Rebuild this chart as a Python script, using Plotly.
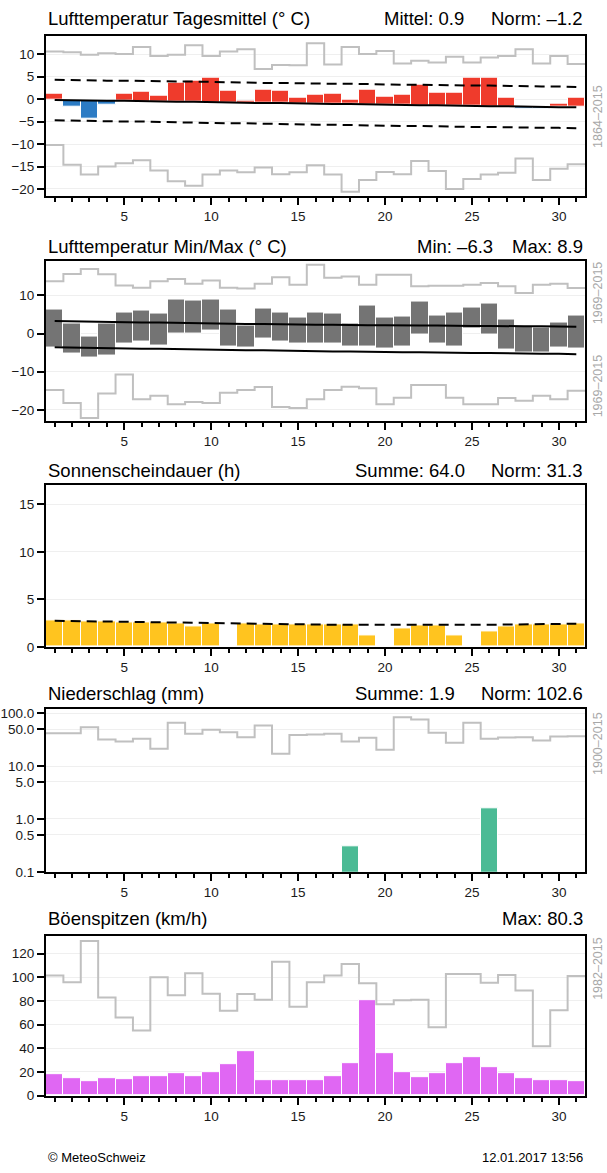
import plotly.graph_objects as go

# ---------------- data ----------------
days = list(range(1, 32))

# Panel 1: daily mean temperature
t_mean = [1.3, -1.6, -4.3, -1.3, 1.1, 1.6, 0.7, 3.6, 4.1, 4.7, 1.8, -0.4, 2.0, 1.9, 0.3,
          0.9, 1.1, -0.1, 2.0, 0.6, 0.9, 3.2, 1.5, 1.4, 4.7, 4.7, 0.3, -2.2, -2.2, -1.0, 0.2]
t_norm = [-0.2, -0.3, -0.3, -0.4, -0.4, -0.5, -0.5, -0.6, -0.6, -0.7, -0.8, -0.8, -0.9, -0.9, -1.0,
          -1.0, -1.1, -1.1, -1.2, -1.2, -1.3, -1.4, -1.4, -1.5, -1.5, -1.6, -1.6, -1.7, -1.7, -1.8, -1.8]
t_band_hi = [4.3, 4.2, 4.2, 4.1, 4.1, 4.0, 4.0, 3.9, 3.9, 3.8, 3.8, 3.7, 3.6, 3.6, 3.5,
             3.5, 3.4, 3.4, 3.3, 3.3, 3.2, 3.2, 3.1, 3.1, 3.0, 3.0, 2.9, 2.9, 2.8, 2.8, 2.7]
t_band_lo = [-4.7, -4.8, -4.8, -4.9, -5.0, -5.0, -5.1, -5.2, -5.2, -5.3, -5.4, -5.4, -5.5, -5.6, -5.6,
             -5.7, -5.7, -5.8, -5.9, -5.9, -6.0, -6.0, -6.1, -6.1, -6.2, -6.2, -6.3, -6.3, -6.4, -6.4, -6.5]
t_rec_max = [10.6, 10.4, 9.85, 10.2, 10.0, 11.6, 9.6, 9.85, 12.0, 9.6, 10.6, 11.1, 6.7, 7.6, 7.55,
             12.4, 7.7, 11.6, 10.0, 10.7, 7.9, 8.5, 8.15, 9.4, 8.15, 9.26, 9.6, 11.1, 7.9, 9.6, 7.8]
t_rec_min = [-10.2, -14.6, -16.8, -15.0, -14.3, -13.6, -15.9, -18.3, -19.3, -16.8, -15.9, -16.3, -15.2, -16.7, -16.3,
             -14.7, -16.8, -20.6, -18.0, -16.2, -16.7, -13.8, -16.0, -20.0, -17.8, -16.8, -16.4, -13.2, -18.0, -15.5, -14.5]

# Panel 2: daily min / max temperature
t_max = [6.4, 2.7, -0.9, 2.7, 5.4, 6.0, 5.1, 8.8, 8.6, 8.9, 6.4, 2.2, 6.5, 5.4, 4.1,
         5.5, 5.2, 2.7, 7.4, 4.2, 4.4, 8.4, 4.7, 5.5, 6.9, 7.95, 3.6, 1.8, 1.6, 3.0, 4.8]
t_min = [-3.6, -5.2, -6.3, -5.8, -2.5, -2.0, -3.1, 0.0, 0.1, 0.8, -3.3, -3.6, -1.4, -2.2, -2.5,
         -2.5, -2.5, -3.5, -3.5, -4.0, -3.5, -0.3, -2.5, -3.5, 1.2, -0.3, -4.2, -5.1, -5.1, -3.6, -3.8]
tmax_norm = [3.3, 3.2, 3.1, 3.1, 3.0, 2.9, 2.9, 2.8, 2.7, 2.7, 2.6, 2.5, 2.5, 2.4, 2.3,
             2.3, 2.3, 2.2, 2.2, 2.2, 2.1, 2.1, 2.1, 2.0, 2.0, 2.0, 1.9, 1.9, 1.9, 1.8, 1.8]
tmin_norm = [-3.6, -3.7, -3.8, -3.8, -3.9, -4.0, -4.0, -4.1, -4.2, -4.2, -4.3, -4.4, -4.4, -4.5, -4.6,
             -4.6, -4.7, -4.7, -4.8, -4.8, -4.9, -4.9, -5.0, -5.0, -5.1, -5.1, -5.2, -5.2, -5.3, -5.3, -5.4]
tmax_rec = [13.7, 15.6, 16.9, 15.5, 12.6, 12.0, 13.7, 14.3, 13.0, 13.9, 12.0, 11.8, 13.0, 14.7, 12.8,
            18.0, 14.6, 14.9, 12.8, 15.4, 15.4, 12.4, 12.5, 12.5, 12.8, 13.2, 12.4, 10.6, 12.8, 13.0, 11.9]
tmin_rec = [-14.8, -18.2, -22.1, -15.7, -10.7, -17.2, -16.3, -18.5, -17.9, -18.2, -15.5, -14.8, -14.0, -19.2, -19.5,
            -17.2, -14.8, -13.9, -14.3, -18.5, -16.8, -13.5, -13.5, -16.8, -18.5, -18.5, -16.9, -17.6, -16.3, -17.2, -15.0]

# Panel 3: sunshine duration (h)
sun = [2.8, 2.75, 2.7, 2.65, 2.6, 2.6, 2.55, 2.5, 2.2, 2.5, 0.0, 2.45, 2.4, 2.4, 2.4,
       2.4, 2.35, 2.35, 1.25, 0.0, 1.9, 2.3, 2.3, 1.2, 0.0, 1.65, 2.2, 2.35, 2.4, 2.4, 2.45]
sun_norm = [2.75, 2.72, 2.69, 2.66, 2.63, 2.6, 2.57, 2.54, 2.51, 2.48, 2.45, 2.43, 2.41, 2.39, 2.37,
            2.35, 2.33, 2.32, 2.31, 2.3, 2.3, 2.3, 2.3, 2.31, 2.32, 2.33, 2.35, 2.37, 2.39, 2.41, 2.44]

# Panel 4: precipitation (mm)
precip = [None] * 17 + [0.3] + [None] * 7 + [1.6] + [None] * 5
precip_rec = [41.7, 41.7, 54.5, 31.7, 29.1, 32.8, 21.2, 65.8, 40.8, 48.6, 43.8, 35.2, 58.5, 17.1, 38.9,
              39.5, 40.8, 29.1, 34.3, 20.3, 84.1, 75.9, 42.6, 27.5, 65.8, 32.8, 34.7, 35.2, 30.5, 36.3, 36.8]

# Panel 5: gust peaks (km/h)
gust = [17.8, 15.0, 12.2, 15.0, 13.9, 16.1, 16.4, 18.6, 16.7, 19.7, 26.9, 37.5, 13.3, 13.3, 13.3,
        13.1, 16.1, 27.8, 80.3, 35.6, 20.0, 15.3, 19.4, 27.2, 32.2, 24.4, 18.9, 15.0, 13.3, 12.8, 12.2]
gust_rec = [101.4, 95.8, 130.6, 82.8, 66.1, 55.0, 100.0, 84.7, 103.3, 86.1, 71.7, 85.8, 81.1, 113.0, 75.0,
            95.8, 101.4, 111.1, 95.0, 77.2, 80.6, 81.1, 57.8, 102.8, 102.8, 95.3, 101.9, 88.9, 41.7, 72.2, 101.1]

# ---------------- styling ----------------
W, H = 607, 1173
FONT = "Liberation Sans, Arial, Helvetica, sans-serif"
RED, BLUE, GREY_BAR = "#EF3B2C", "#2B7BC4", "#747474"
YELLOW, GREEN, MAGENTA = "#FFC41F", "#4BBB95", "#E067F3"
REC = "#C0C0C0"
LABEL_GREY = "#A8A8A8"

X_LEFT, X_RIGHT = 46, 585
panels_px = [(33, 195), (260, 422), (487, 650), (713, 877), (942, 1103)]


def py(p):
    return 1 - p / H


def px(p):
    return p / W


def steps(vals):
    xs = [d - 0.5 for d in days] + [days[-1] + 0.5]
    ys = list(vals) + [vals[-1]]
    return xs, ys


fig = go.Figure()


def add_rec(vals, i):
    xs, ys = steps(vals)
    fig.add_trace(go.Scatter(x=xs, y=ys, mode="lines", line=dict(color=REC, width=2, shape="hv"),
                             xaxis=f"x{i}", yaxis=f"y{i}", hoverinfo="skip"))


def add_line(vals, i, dash="solid"):
    fig.add_trace(go.Scatter(x=days, y=vals, mode="lines",
                             line=dict(color="black", width=2, dash=dash),
                             xaxis=f"x{i}", yaxis=f"y{i}"))


BAR_LINE = dict(color="white", width=1)

# Panel 1
add_rec(t_rec_max, 1)
add_rec(t_rec_min, 1)
cols = [RED if v >= n else BLUE for v, n in zip(t_mean, t_norm)]
fig.add_trace(go.Bar(x=days, y=[v - n for v, n in zip(t_mean, t_norm)], base=t_norm, width=1,
                     marker=dict(color=cols, line=BAR_LINE), xaxis="x1", yaxis="y1"))
add_line(t_norm, 1)
add_line(t_band_hi, 1, "10px,6px")
add_line(t_band_lo, 1, "10px,6px")

# Panel 2
add_rec(tmax_rec, 2)
add_rec(tmin_rec, 2)
fig.add_trace(go.Bar(x=days, y=[a - b for a, b in zip(t_max, t_min)], base=t_min, width=1,
                     marker=dict(color=GREY_BAR, line=BAR_LINE), xaxis="x2", yaxis="y2"))
add_line(tmax_norm, 2)
add_line(tmin_norm, 2)

# Panel 3
fig.add_trace(go.Bar(x=days, y=sun, width=1, marker=dict(color=YELLOW, line=BAR_LINE),
                     xaxis="x3", yaxis="y3"))
add_line(sun_norm, 3, "10px,6px")

# Panel 4
add_rec(precip_rec, 4)
fig.add_trace(go.Bar(x=days, y=precip, width=1, marker=dict(color=GREEN, line=BAR_LINE),
                     xaxis="x4", yaxis="y4"))

# Panel 5
add_rec(gust_rec, 5)
fig.add_trace(go.Bar(x=days, y=gust, width=1, marker=dict(color=MAGENTA, line=BAR_LINE),
                     xaxis="x5", yaxis="y5"))

yranges = [[-21.6, 14.1], [-22.9, 19.1], [0, 17.0], [-1, 2.074], [0, 134.7]]
ydticks = [5, 10, 5, None, 20]

layout = dict(width=W, height=H, margin=dict(l=0, r=0, t=0, b=0), showlegend=False,
              paper_bgcolor="white", plot_bgcolor="white", bargap=0,
              font=dict(family=FONT, size=13, color="#1a1a1a"))

for i, (top, bot) in enumerate(panels_px, start=1):
    xa = dict(domain=[px(X_LEFT), px(X_RIGHT)], range=[0.5, 31.5], anchor=f"y{i}",
              tick0=5, dtick=5, ticks="outside", ticklen=7, tickwidth=2, tickcolor="black",
              showline=True, linewidth=2, linecolor="black", mirror=True, showgrid=False,
              zeroline=False, tickfont=dict(size=13.5),
              minor=dict(ticks="outside", ticklen=4, tickwidth=2, tickcolor="black",
                         dtick=1, tick0=0, showgrid=False))
    ya = dict(domain=[py(bot), py(top)], anchor=f"x{i}", range=yranges[i - 1],
              ticks="outside", ticklen=7, tickwidth=1.5, tickcolor="black",
              showline=True, linewidth=2, linecolor="black", mirror=True,
              showgrid=True, gridcolor="#EFEFEF", gridwidth=1, zeroline=False,
              tickfont=dict(size=13.5))
    if i == 4:
        ya.update(type="log", tickvals=[0.1, 0.5, 1, 5, 10, 50, 100],
                  ticktext=["0.1", "0.5", "1.0", "5.0", "10.0", "50.0", "100.0"])
    else:
        ya.update(dtick=ydticks[i - 1], tick0=0)
    layout[f"xaxis{i}" if i > 1 else "xaxis"] = xa
    layout[f"yaxis{i}" if i > 1 else "yaxis"] = ya

fig.update_layout(**layout)

TITLE = 18.5
ann = []


def text(x, y, s, anchor="left", size=TITLE, color="black", angle=0):
    ann.append(dict(x=px(x), y=py(y), xref="paper", yref="paper", text=s, showarrow=False,
                    xanchor=anchor, yanchor="middle", textangle=angle,
                    font=dict(size=size, color=color, family=FONT)))


titles = ["Lufttemperatur Tagesmittel (° C)", "Lufttemperatur Min/Max (° C)",
          "Sonnenscheindauer (h)", "Niederschlag (mm)", "Böenspitzen (km/h)"]
title_y = [16, 246, 472, 697, 924]
for t, y in zip(titles, title_y):
    text(X_LEFT, y, t)

stats = [
    [("Mittel: 0.9", 466), ("Norm: –1.2", 585)],
    [("Min: –6.3", 495), ("Max: 8.9", 585)],
    [("Summe: 64.0", 467), ("Norm: 31.3", 585)],
    [("Summe: 1.9", 457), ("Norm: 102.6", 585)],
    [("Max: 80.3", 585)],
]
for row, y in zip(stats, title_y):
    for s, xr in row:
        text(xr, y, s, anchor="right")

side = [("1864–2015", 115), ("1969–2015", 293), ("1969–2015", 387), ("1900–2015", 748), ("1982–2015", 975)]
for s, y in side:
    text(598, y, s, anchor="center", size=12.5, color=LABEL_GREY, angle=-90)

text(X_LEFT, 1165, "© MeteoSchweiz", size=13)
text(585, 1165, "12.01.2017 13:56", anchor="right", size=13)

fig.update_layout(annotations=ann)

fig.write_html("out.html", config={"displayModeBar": False},
               post_script="document.body.style.margin='0';")
